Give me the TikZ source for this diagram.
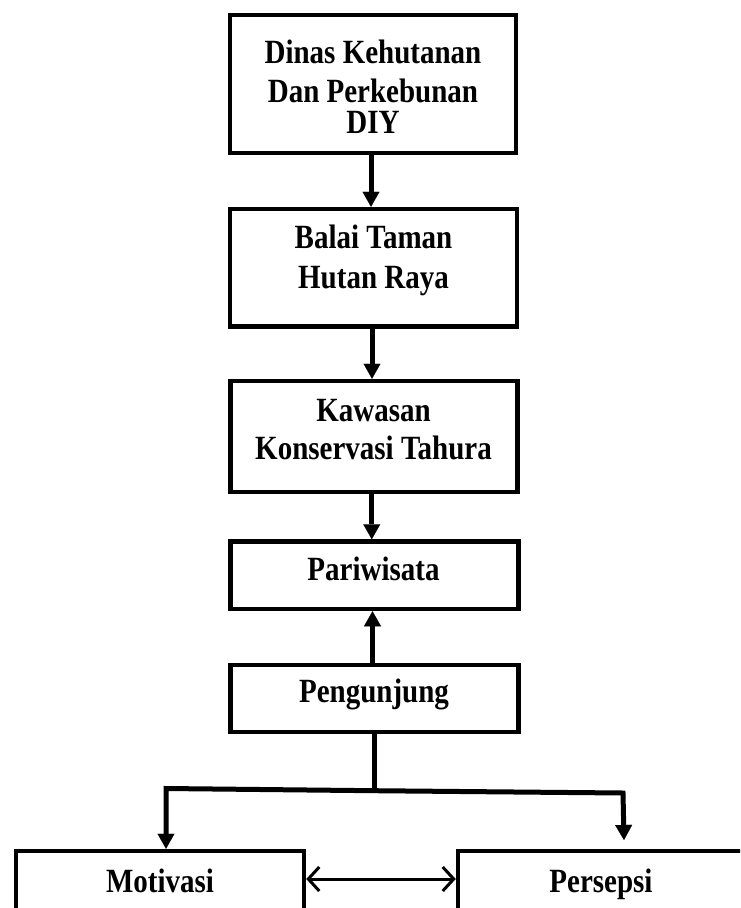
\documentclass[tikz,border=0pt]{standalone}
\usepackage{graphicx}
\usepackage{fontspec}
\setmainfont{Liberation Serif}
\usetikzlibrary{arrows.meta}
\newcommand{\vsc}[1]{\scalebox{1}[1.17]{#1}}
\tikzset{
  boxnode/.style={draw=black, line width=4.5pt, rectangle, inner sep=0pt, minimum width=287pt},
  txt/.style={inner sep=0pt, align=center, font=\bfseries\fontsize{29}{38.5}\selectfont},
  arr/.style={line width=5pt, -{Triangle[length=15pt,width=17pt,line width=0.1pt]}},
  link/.style={line width=5pt},
  dbl/.style={line width=3pt, {Straight Barb[length=11pt,width=24pt]}-{Straight Barb[length=11pt,width=24pt]}}
}
\begin{document}
\begin{tikzpicture}[x=1pt,y=-1pt]
\useasboundingbox (0,0) rectangle (740,908);
\fill[white] (0,0) rectangle (740,908);
\clip (0,0) rectangle (740,908);
% boxes
\node[boxnode, minimum width=286pt, minimum height=138pt] (b1) at (373,84) {};
\node[boxnode, minimum height=117.5pt] (b2) at (373.5,267.75) {};
\node[boxnode, minimum height=111pt] (b3) at (373.75,436.5) {};
\node[boxnode, minimum width=288pt, minimum height=67.5pt] (b4) at (374.5,575.25) {};
\node[boxnode, minimum width=288pt, minimum height=67pt] (b5) at (374.5,698.5) {};
\node[boxnode, minimum width=288pt, minimum height=80pt] (mot) at (160,891) {};
\node[boxnode, minimum width=286pt, minimum height=80pt] (pers) at (601,891) {};
% texts
\node[txt, font=\bfseries\fontsize{29}{38.7}\selectfont] (t1) at (373,86.6) {\vsc{Dinas Kehutanan}\\\vsc{Dan Perkebunan}\\[-7.4pt]\vsc{DIY}};
\node[txt, font=\bfseries\fontsize{29}{40}\selectfont] (t2) at (373.5,260.3) {\vsc{Balai Taman}\\\vsc{Hutan Raya}};
\node[txt, font=\bfseries\fontsize{29}{38.3}\selectfont] (t3) at (373.5,429.6) {\vsc{Kawasan}\\\vsc{Konservasi Tahura}};
\node[txt, anchor=base] (t4) at (373.5,580) {\vsc{Pariwisata}};
\node[txt, anchor=base] (t5) at (374,702) {\vsc{Pengunjung}};
\node[txt, anchor=base] (t6) at (160,892) {\vsc{Motivasi}};
\node[txt, anchor=base] (t7) at (601,892) {\vsc{Persepsi}};
% connectors
\draw[arr] ([xshift=-2pt]b1.south) -- ([xshift=-2pt]b1.south |- b2.north);
\draw[arr] ([xshift=-1.5pt]b2.south) -- ([xshift=-1.5pt]b2.south |- b3.north);
\draw[arr] ([xshift=-2pt]b3.south) -- ([xshift=-2pt]b3.south |- b4.north);
\draw[arr] ([xshift=-2pt]b5.north) -- ([xshift=-2pt]b5.north |- b4.south);
\coordinate (jc) at (374,790.7);
\coordinate (jl) at (166,788.5);
\coordinate (jr) at (623,793);
\coordinate (pe) at (624,840);
\draw[link] (b5.south -| jc) -- (jc);
\draw[arr] (jc) -- (jl) -- (jl |- mot.north);
\draw[arr] (jc) -- (jr) -- (pe);
\draw[dbl] ([yshift=12pt]mot.east) -- ([yshift=12pt]pers.west);
\end{tikzpicture}
\end{document}
